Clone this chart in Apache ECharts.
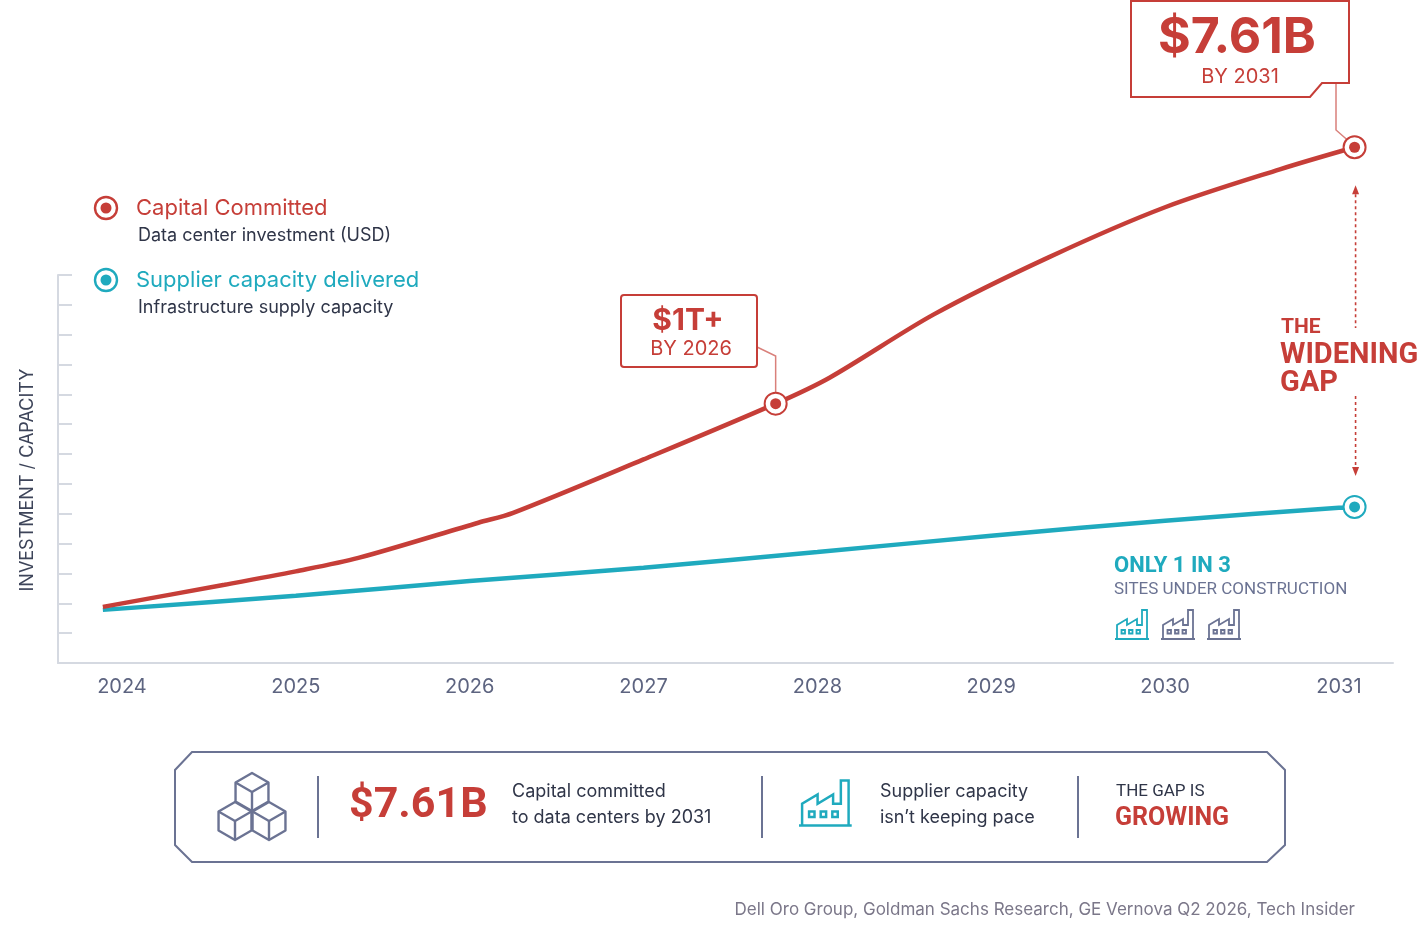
<!DOCTYPE html>
<html>
<head>
<meta charset="utf-8">
<title>The Widening Gap</title>
<script src="https://cdn.jsdelivr.net/npm/echarts@6/dist/echarts.min.js"></script>
<style>
    html, body { margin: 0; padding: 0; background: #fff; }
    #main { width: 1420px; height: 928px; }
</style>
</head>
<body>
<div id="main"></div>
<script>
// x axis tick labels
var years = [2024, 2025, 2026, 2027, 2028, 2029, 2030, 2031];

// Capital committed (index units, one unit per y tick)
var capitalX = [2023.89, 2024.59, 2025.0, 2025.36, 2026.05, 2026.25, 2027.0, 2027.76, 2028.07, 2028.67, 2029.33, 2030.0, 2030.66, 2031.09];
var capitalY = [1.88, 2.62, 3.07, 3.52, 4.70, 5.03, 6.82, 8.69, 9.56, 11.68, 13.59, 15.27, 16.54, 17.28];

// Supplier capacity delivered
var supplyX = [2023.89, 2025.0, 2026.0, 2027.0, 2028.0, 2029.0, 2030.0, 2031.0, 2031.09];
var supplyY = [1.78, 2.25, 2.75, 3.19, 3.72, 4.26, 4.77, 5.20, 5.23];

// points that carry a ring marker
var capitalMarks = [7, 13];
var supplyMarks = [8];

var RED = '#c63e38', TEAL = '#1faabe', SLATE = '#6b7393', INK = '#2f3548', AXIS = '#d5d9e1';
var FONT = 'Inter, "Noto Sans", sans-serif';
var DISPLAY = 'Roboto, "Liberation Sans", sans-serif';

function pairs(xs, ys) {
    var out = [];
    for (var i = 0; i < xs.length; i++) out.push([xs[i], ys[i]]);
    return out;
}

function pick(xs, ys, idx, color) {
    return idx.map(function (i) {
        return {value: [xs[i], ys[i]], color: color};
    });
}

var marks = pick(capitalX, capitalY, capitalMarks, RED).concat(pick(supplyX, supplyY, supplyMarks, TEAL));

function txt(x, y, s, size, color, weight, family, align) {
    return {
        type: 'text', x: x, y: y, z: 20,
        style: {
            text: s, fontSize: size, fontWeight: weight || 'normal', fontFamily: family || FONT,
            fill: color, align: align || 'left', verticalAlign: 'middle'
        }
    };
}

function legendRing(cx, cy, color) {
    return {
        type: 'group', children: [
            {type: 'circle', shape: {cx: cx, cy: cy, r: 11}, style: {fill: '#fff', stroke: color, lineWidth: 2.4}},
            {type: 'circle', shape: {cx: cx, cy: cy, r: 5.5}, style: {fill: color}}
        ]
    };
}

function factory(x, y, s, color, lw) {
    var st = {stroke: color, lineWidth: lw, fill: null};
    return {
        type: 'group', x: x, y: y, scaleX: s, scaleY: s, children: [
            {type: 'polyline', shape: {points: [[0, 30], [34, 30]]}, style: st},
            {type: 'polyline', shape: {points: [[2, 30], [2, 16], [12, 10], [12, 16], [22, 10], [22, 16], [27, 16], [27, 1], [32, 1], [32, 30]]}, style: st},
            {type: 'rect', shape: {x: 6.5, y: 21, width: 3.5, height: 3.5}, style: st},
            {type: 'rect', shape: {x: 14, y: 21, width: 3.5, height: 3.5}, style: st},
            {type: 'rect', shape: {x: 21.5, y: 21, width: 3.5, height: 3.5}, style: st}
        ]
    };
}

function cube(cx, cy, s) {
    var h = 0.866 * s;
    var top = [cx, cy - s], ur = [cx + h, cy - s / 2], lr = [cx + h, cy + s / 2],
        bot = [cx, cy + s], ll = [cx - h, cy + s / 2], ul = [cx - h, cy - s / 2], c = [cx, cy];
    var st = {stroke: SLATE, lineWidth: 2.4, fill: null, lineJoin: 'round'};
    return {
        type: 'group', children: [
            {type: 'polygon', shape: {points: [top, ur, lr, bot, ll, ul]}, style: {stroke: SLATE, lineWidth: 2.4, fill: '#fff', lineJoin: 'round'}},
            {type: 'polyline', shape: {points: [ul, c, ur]}, style: st},
            {type: 'polyline', shape: {points: [c, bot]}, style: st}
        ]
    };
}

var option = {
    animation: false,
    backgroundColor: '#fff',
    grid: {left: 58, right: 27, top: 275, bottom: 265},
    xAxis: {
        type: 'value',
        min: 2023.632,
        max: 2031.311,
        axisLine: {show: true, lineStyle: {color: AXIS, width: 2}},
        axisTick: {show: false},
        splitLine: {show: false},
        axisLabel: {
            customValues: years,
            formatter: function (v) { return String(v); },
            fontSize: 20, fontFamily: FONT, color: '#5d6480', margin: 14
        }
    },
    yAxis: {
        type: 'value',
        min: 0,
        max: 13,
        interval: 1,
        axisLine: {show: true, lineStyle: {color: AXIS, width: 2}},
        axisTick: {show: true, inside: true, length: 14, lineStyle: {color: AXIS, width: 2}},
        axisLabel: {show: false},
        splitLine: {show: false}
    },
    series: [
        {
            name: 'Supplier capacity delivered',
            type: 'line',
            data: pairs(supplyX, supplyY),
            smooth: 0.3,
            symbol: 'none',
            clip: false,
            z: 2,
            lineStyle: {color: TEAL, width: 4.5}
        },
        {
            name: 'Capital Committed',
            type: 'line',
            data: pairs(capitalX, capitalY),
            smooth: 0.3,
            symbol: 'none',
            clip: false,
            z: 3,
            lineStyle: {color: RED, width: 4.5}
        },
        {
            // outer ring: white fill, coloured border
            type: 'scatter',
            data: marks.map(function (m) {
                return {value: m.value, itemStyle: {color: '#fff', borderColor: m.color, borderWidth: 2, opacity: 1}};
            }),
            symbolSize: 22,
            clip: false,
            z: 5,
            silent: true
        },
        {
            // inner dot
            type: 'scatter',
            data: marks.map(function (m) {
                return {value: m.value, itemStyle: {color: m.color, opacity: 1}};
            }),
            symbolSize: 11,
            clip: false,
            z: 6,
            silent: true
        }
    ]
};

var chart = echarts.init(document.getElementById('main'));
chart.setOption(option);

// annotations hang off the pixel positions of the marked points
var p1 = chart.convertToPixel({gridIndex: 0}, [capitalX[7], capitalY[7]]);
var p2 = chart.convertToPixel({gridIndex: 0}, [capitalX[13], capitalY[13]]);
var p3 = chart.convertToPixel({gridIndex: 0}, [supplyX[8], supplyY[8]]);
var ax = p2[0] + 1;
var dash = {stroke: RED, lineWidth: 1.6, lineDash: [3, 3]};

var graphics = [
    // y axis title
    {
        type: 'text', x: 28, y: 480, rotation: Math.PI / 2,
        style: {text: 'INVESTMENT / CAPACITY', fontSize: 18, fontFamily: FONT, fill: '#3d4459', align: 'center', verticalAlign: 'middle'}
    },
    // legend
    legendRing(106, 208, RED),
    txt(136, 208, 'Capital Committed', 22, RED),
    txt(138, 236, 'Data center investment (USD)', 18, INK),
    legendRing(106, 280, TEAL),
    txt(136, 280, 'Supplier capacity delivered', 22, TEAL),
    txt(138, 308, 'Infrastructure supply capacity', 18, INK),

    // $1T+ callout
    {type: 'polyline', shape: {points: [[757, 347], [p1[0], 356], [p1[0], p1[1] - 11]]}, style: {stroke: '#d9807b', lineWidth: 1.5, fill: null}, z: 4},
    {type: 'rect', shape: {x: 621, y: 295, width: 136, height: 72, r: 3}, style: {fill: '#fff', stroke: RED, lineWidth: 2}, z: 8},
    txt(688, 321, '$1T+', 30, RED, 'bold', FONT, 'center'),
    txt(691, 349, 'BY 2026', 20, RED, 'normal', FONT, 'center'),

    // $7.61B callout
    {type: 'polyline', shape: {points: [[1336, 83], [1336, 130], [p2[0] - 8, p2[1] - 8]]}, style: {stroke: '#d9807b', lineWidth: 1.5, fill: null}, z: 4},
    {type: 'polygon', shape: {points: [[1131, 1], [1349, 1], [1349, 83], [1322, 83], [1310, 97], [1131, 97]]}, style: {fill: '#fff', stroke: RED, lineWidth: 2}, z: 8},
    txt(1237, 38, '$7.61B', 50, RED, 'bold', FONT, 'center'),
    txt(1240, 77, 'BY 2031', 20, RED, 'normal', FONT, 'center'),

    // widening gap arrow
    {type: 'polygon', shape: {points: [[ax, p2[1] + 38], [ax - 3.5, p2[1] + 47], [ax + 3.5, p2[1] + 47]]}, style: {fill: RED}},
    {type: 'line', shape: {x1: ax, y1: p2[1] + 47, x2: ax, y2: 328}, style: dash},
    {type: 'line', shape: {x1: ax, y1: 396, x2: ax, y2: p3[1] - 40}, style: dash},
    {type: 'polygon', shape: {points: [[ax, p3[1] - 31], [ax - 3.5, p3[1] - 40], [ax + 3.5, p3[1] - 40]]}, style: {fill: RED}},
    txt(1281, 328, 'THE', 21, RED, 'bold', DISPLAY),
    txt(1280, 356, 'WIDENING', 29, RED, 'bold', DISPLAY),
    txt(1280, 384, 'GAP', 29, RED, 'bold', DISPLAY),

    // only 1 in 3
    txt(1114, 566, 'ONLY 1 IN 3', 22, TEAL, 'bold', DISPLAY),
    txt(1114, 590, 'SITES UNDER CONSTRUCTION', 17, SLATE, 'normal', DISPLAY),
    factory(1115, 609, 1, TEAL, 1.8),
    factory(1161, 609, 1, SLATE, 1.8),
    factory(1207, 609, 1, SLATE, 1.8),

    // summary banner
    {type: 'polygon', shape: {points: [[192, 752], [1267, 752], [1285, 770], [1285, 845], [1267, 862], [192, 862], [175, 845], [175, 770]]}, style: {fill: '#fff', stroke: SLATE, lineWidth: 2}},
    cube(252, 792, 19),
    cube(235, 821, 19),
    cube(269, 821, 19),
    {type: 'line', shape: {x1: 318, y1: 776, x2: 318, y2: 838}, style: {stroke: SLATE, lineWidth: 2}},
    txt(349, 806, '$7.61B', 43, RED, 'bold', DISPLAY),
    txt(512, 792, 'Capital committed', 18, INK),
    txt(512, 818, 'to data centers by 2031', 18, INK),
    {type: 'line', shape: {x1: 762, y1: 776, x2: 762, y2: 838}, style: {stroke: SLATE, lineWidth: 2}},
    factory(799, 779, 1.55, TEAL, 1.6),
    txt(880, 792, 'Supplier capacity', 18, INK),
    txt(880, 818, 'isn\u2019t keeping pace', 18, INK),
    {type: 'line', shape: {x1: 1078, y1: 776, x2: 1078, y2: 838}, style: {stroke: SLATE, lineWidth: 2}},
    txt(1116, 792, 'THE GAP IS', 17, INK, 'normal', DISPLAY),
    txt(1115, 819, 'GROWING', 25, RED, 'bold', DISPLAY),

    // source line
    txt(1355, 910, 'Dell Oro Group, Goldman Sachs Research, GE Vernova Q2 2026, Tech Insider', 17, '#7b7789', 'normal', FONT, 'right')
];

chart.setOption({graphic: graphics});
</script>
</body>
</html>
